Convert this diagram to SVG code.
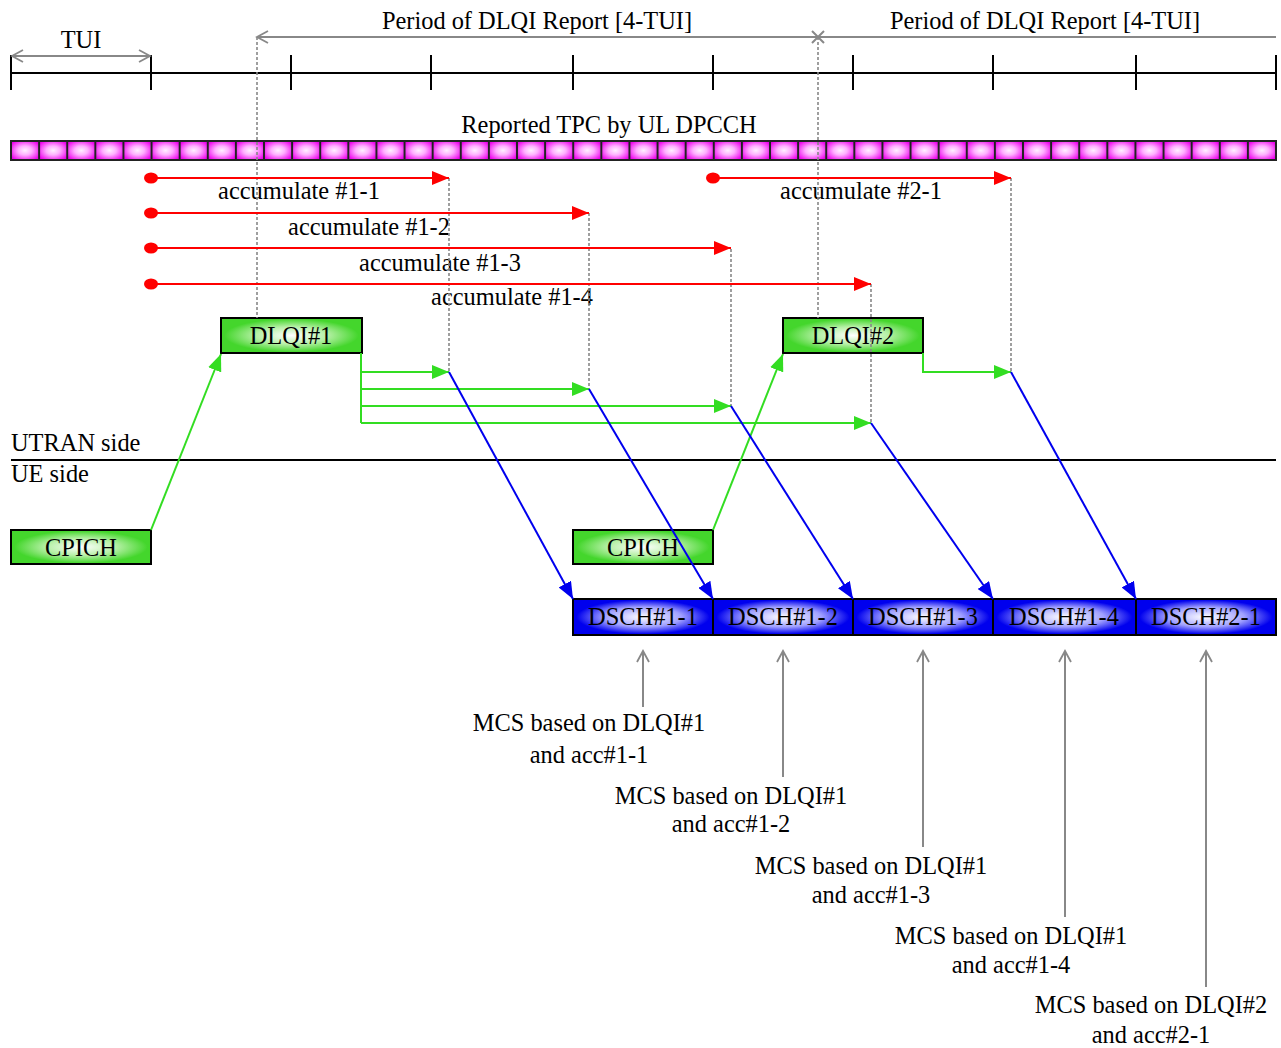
<svg xmlns="http://www.w3.org/2000/svg" width="1281" height="1048" viewBox="0 0 1281 1048">
<style>
text{font-family:"Liberation Serif","Times New Roman",serif;font-size:24.4px;fill:#000}
.c{text-anchor:middle}
.blk{stroke:#000;stroke-width:2;fill:none}
.gry{stroke:#888;stroke-width:2;fill:none}
.dash{stroke:#888;stroke-width:1.6;stroke-dasharray:3,2;fill:none}
.red{stroke:#f00;stroke-width:2;fill:none;marker-end:url(#ar)}
.grn{stroke:#33dd22;stroke-width:2;fill:none}
.blu{stroke:#0000ee;stroke-width:2;fill:none;marker-end:url(#ab)}
.gbox{fill:url(#gg);stroke:#000;stroke-width:2}
.bbox{fill:url(#bg);stroke:#000;stroke-width:2}
</style>
<defs>
<radialGradient id="gg" cx="50%" cy="50%" r="50%">
<stop offset="0" stop-color="#ffffff"/><stop offset="0.5" stop-color="#b6f0a6"/><stop offset="0.95" stop-color="#44d62c"/><stop offset="1" stop-color="#44d62c"/>
</radialGradient>
<radialGradient id="bg" cx="50%" cy="50%" r="50%">
<stop offset="0" stop-color="#ffffff"/><stop offset="0.55" stop-color="#a0a0ff"/><stop offset="0.95" stop-color="#0000ee"/><stop offset="1" stop-color="#0000ee"/>
</radialGradient>
<radialGradient id="pg" cx="50%" cy="50%" r="60%">
<stop offset="0" stop-color="#fff0ff"/><stop offset="0.4" stop-color="#ffb0ff"/><stop offset="1" stop-color="#ee00ee"/>
</radialGradient>
<pattern id="cells" patternUnits="userSpaceOnUse" x="11" y="141" width="28.111" height="19">
<rect x="0" y="0" width="28.111" height="19" fill="url(#pg)" stroke="#222" stroke-width="2"/>
</pattern>
<marker id="ar" markerUnits="userSpaceOnUse" markerWidth="18" markerHeight="14" refX="17" refY="7" orient="auto"><path d="M0,0 L17,7 L0,14 Z" fill="#f00"/></marker>
<marker id="ag" markerUnits="userSpaceOnUse" markerWidth="18" markerHeight="14" refX="17" refY="7" orient="auto"><path d="M0,0 L17,7 L0,14 Z" fill="#33dd22"/></marker>
<marker id="ab" markerUnits="userSpaceOnUse" markerWidth="18" markerHeight="14" refX="17" refY="7" orient="auto"><path d="M0,0 L17,7 L0,14 Z" fill="#0000ee"/></marker>
<marker id="ao" markerUnits="userSpaceOnUse" markerWidth="14" markerHeight="14" refX="12" refY="7" orient="auto-start-reverse"><path d="M1,1 L12,7 L1,13" fill="none" stroke="#888" stroke-width="1.8"/></marker>
</defs>

<g id="timeline">
<line class="blk" x1="11" y1="73" x2="1276" y2="73"/>
<path class="blk" d="M11,55V90M151,55V90M291,55V90M431,55V90M573,55V90M713,55V90M853,55V90M993,55V90M1136,55V90M1276,55V90"/>
</g>

<g id="tui">
<line class="gry" x1="12" y1="56" x2="150" y2="56" marker-start="url(#ao)" marker-end="url(#ao)"/>
<text class="c" x="81" y="48">TUI</text>
</g>

<g id="period1">
<line class="gry" x1="257" y1="37" x2="818" y2="37" marker-start="url(#ao)"/>
<text class="c" x="537" y="29">Period of DLQI Report [4-TUI]</text>
</g>
<g id="period2">
<line class="gry" x1="818" y1="37" x2="1276" y2="37"/>
<path class="gry" d="M812,31 L824,43 M824,31 L812,43"/>
<text class="c" x="1045" y="29">Period of DLQI Report [4-TUI]</text>
</g>

<g id="tpc">
<rect x="11" y="141" width="1265" height="19" fill="url(#cells)" stroke="#222" stroke-width="2"/>
<text class="c" x="609" y="133">Reported TPC by UL DPCCH</text>
</g>

<g id="acc-labels">
<text class="c" x="299" y="199">accumulate #1-1</text>
<text class="c" x="369" y="235">accumulate #1-2</text>
<text class="c" x="440" y="271">accumulate #1-3</text>
<text class="c" x="512" y="305">accumulate #1-4</text>
<text class="c" x="861" y="199">accumulate #2-1</text>
</g>

<g id="dlqi1"><rect class="gbox" x="221" y="318" width="141" height="35"/><text class="c" x="291" y="344">DLQI#1</text></g>
<g id="dlqi2"><rect class="gbox" x="783" y="318" width="140" height="35"/><text class="c" x="853" y="344">DLQI#2</text></g>

<g id="sides">
<line class="blk" x1="11" y1="460" x2="1276" y2="460"/>
<text x="11" y="451">UTRAN side</text>
<text x="11" y="482">UE side</text>
</g>

<g id="cpich1"><rect class="gbox" x="11" y="530" width="140" height="34"/><text class="c" x="81" y="556">CPICH</text></g>
<g id="cpich2"><rect class="gbox" x="573" y="530" width="140" height="34"/><text class="c" x="643" y="556">CPICH</text></g>

<g id="dsch11"><rect class="bbox" x="573" y="599" width="140" height="36"/><text class="c" x="643" y="625">DSCH#1-1</text></g>
<g id="dsch12"><rect class="bbox" x="713" y="599" width="140" height="36"/><text class="c" x="783" y="625">DSCH#1-2</text></g>
<g id="dsch13"><rect class="bbox" x="853" y="599" width="140" height="36"/><text class="c" x="923" y="625">DSCH#1-3</text></g>
<g id="dsch14"><rect class="bbox" x="993" y="599" width="143" height="36"/><text class="c" x="1064" y="625">DSCH#1-4</text></g>
<g id="dsch21"><rect class="bbox" x="1136" y="599" width="140" height="36"/><text class="c" x="1206" y="625">DSCH#2-1</text></g>

<g id="mcs-labels">
<text class="c" x="589" y="731">MCS based on DLQI#1</text><text class="c" x="589" y="763">and acc#1-1</text>
<text class="c" x="731" y="804">MCS based on DLQI#1</text><text class="c" x="731" y="832">and acc#1-2</text>
<text class="c" x="871" y="874">MCS based on DLQI#1</text><text class="c" x="871" y="903">and acc#1-3</text>
<text class="c" x="1011" y="944">MCS based on DLQI#1</text><text class="c" x="1011" y="973">and acc#1-4</text>
<text class="c" x="1151" y="1013">MCS based on DLQI#2</text><text class="c" x="1151" y="1043">and acc#2-1</text>
</g>

<g id="connectors">
<path class="dash" d="M257,37V318M818,37V318M449,178V372M589,213V389M731,249V406M871,284V423M1011,178V372"/>
<g fill="#f00">
<ellipse cx="151" cy="178" rx="7" ry="5.5"/><ellipse cx="151" cy="213" rx="7" ry="5.5"/>
<ellipse cx="151" cy="248" rx="7" ry="5.5"/><ellipse cx="151" cy="284" rx="7" ry="5.5"/>
<ellipse cx="713" cy="178" rx="7" ry="5.5"/>
</g>
<line class="red" x1="151" y1="178" x2="449" y2="178"/>
<line class="red" x1="151" y1="213" x2="589" y2="213"/>
<line class="red" x1="151" y1="248" x2="731" y2="248"/>
<line class="red" x1="151" y1="284" x2="871" y2="284"/>
<line class="red" x1="713" y1="178" x2="1011" y2="178"/>
<path class="grn" d="M361,353V423"/>
<line class="grn" x1="361" y1="372" x2="449" y2="372" marker-end="url(#ag)"/>
<line class="grn" x1="361" y1="389" x2="589" y2="389" marker-end="url(#ag)"/>
<line class="grn" x1="361" y1="406" x2="731" y2="406" marker-end="url(#ag)"/>
<line class="grn" x1="361" y1="423" x2="871" y2="423" marker-end="url(#ag)"/>
<path class="grn" d="M923,353V372H1011" marker-end="url(#ag)"/>
<line class="grn" x1="151" y1="530" x2="221" y2="354" marker-end="url(#ag)"/>
<line class="grn" x1="713" y1="530" x2="783" y2="354" marker-end="url(#ag)"/>
<line class="blu" x1="449" y1="372" x2="573" y2="599"/>
<line class="blu" x1="589" y1="389" x2="713" y2="599"/>
<line class="blu" x1="731" y1="406" x2="853" y2="599"/>
<line class="blu" x1="871" y1="423" x2="993" y2="599"/>
<line class="blu" x1="1011" y1="372" x2="1136" y2="599"/>
<line class="gry" x1="643" y1="707" x2="643" y2="651" marker-end="url(#ao)"/>
<line class="gry" x1="783" y1="777" x2="783" y2="651" marker-end="url(#ao)"/>
<line class="gry" x1="923" y1="847" x2="923" y2="651" marker-end="url(#ao)"/>
<line class="gry" x1="1065" y1="917" x2="1065" y2="651" marker-end="url(#ao)"/>
<line class="gry" x1="1206" y1="987" x2="1206" y2="651" marker-end="url(#ao)"/>
</g>
</svg>
